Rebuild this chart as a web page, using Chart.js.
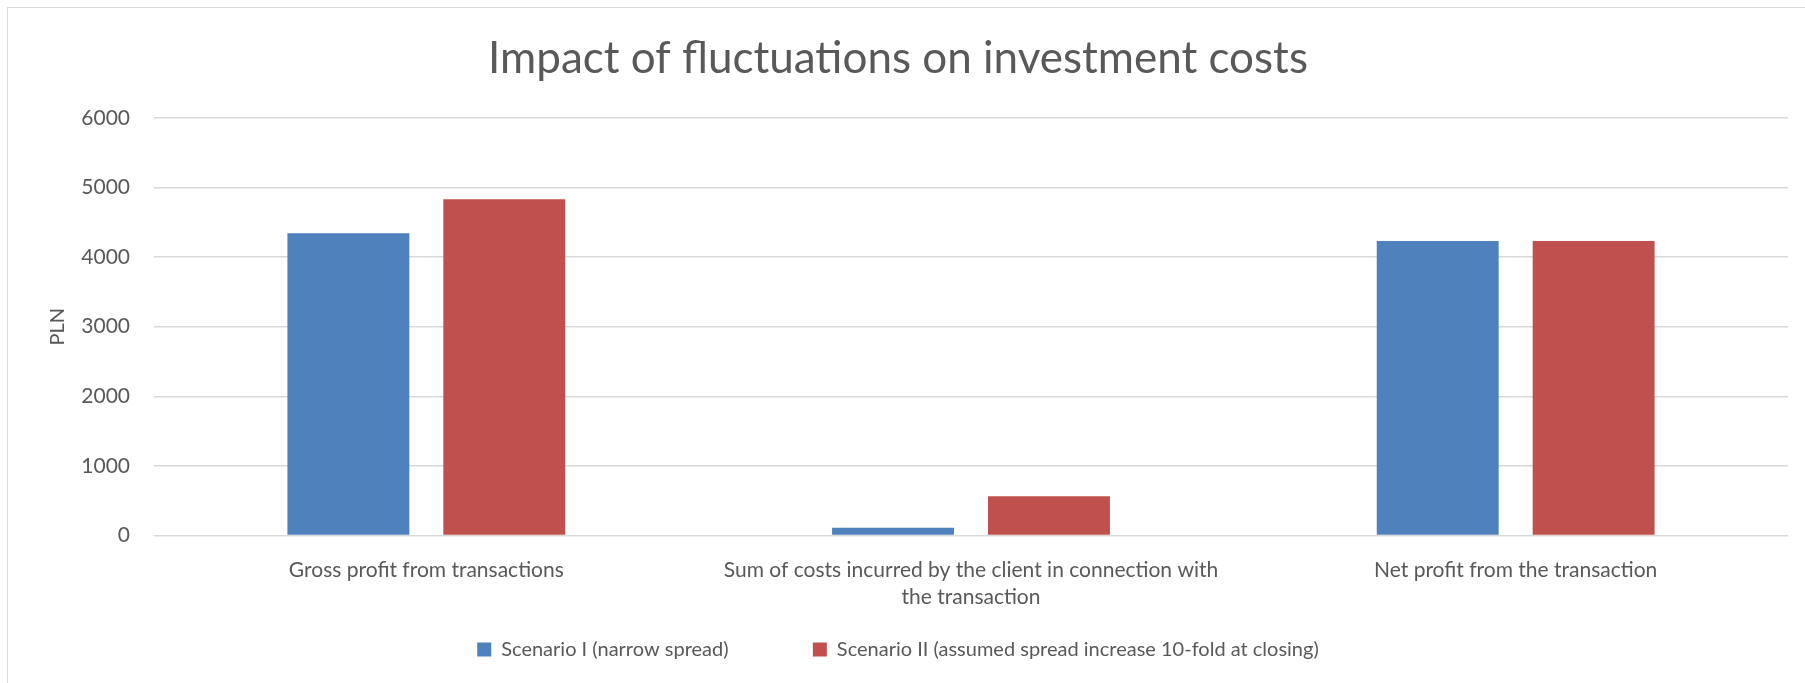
<!DOCTYPE html>
<html>
<head>
<meta charset="utf-8">
<script src="https://cdn.jsdelivr.net/npm/chart.js@4"></script>
<style>
  html, body { margin: 0; padding: 0; background: #fff; }
  #wrap { position: relative; width: 1805px; height: 683px; }
  #frame { position: absolute; left: 7px; top: 7px; right: 0; bottom: 0;
           border-left: 1.5px solid #d9d9d9; border-top: 1.5px solid #d9d9d9; }
  canvas { position: absolute; left: 0; top: 0; }
</style>
</head>
<body>
<div id="wrap">
  <div id="frame"></div>
  <canvas id="costChart" width="1805" height="683"></canvas>
</div>
<script>
// dane z wykresu
const categories = [
    'Gross profit from transactions',
    ['Sum of costs incurred by the client in connection with', 'the transaction'],
    'Net profit from the transaction'
];
const scenario1 = [4340, 110, 4230];
const scenario2 = [4830, 565, 4230];
const yTicks = [0, 1000, 2000, 3000, 4000, 5000, 6000];

const textColor = '#595959';
const fontFamily = 'Lato, "Noto Sans", sans-serif';

document.addEventListener('DOMContentLoaded', function() {
    new Chart(document.getElementById('costChart'), {
        type: 'bar',
        data: {
            labels: categories,
            datasets: [{
                label: 'Scenario I (narrow spread)',
                data: scenario1,
                backgroundColor: '#4f81bd',
                categoryPercentage: 0.5725,
                barPercentage: 0.782
            }, {
                label: 'Scenario II (assumed spread increase 10-fold at closing)',
                data: scenario2,
                backgroundColor: '#c0504d',
                categoryPercentage: 0.5725,
                barPercentage: 0.782
            }]
        },
        options: {
            responsive: false,
            animation: false,
            layout: {
                padding: { left: 8, right: 17, top: 8, bottom: 13.5 }
            },
            plugins: {
                title: {
                    display: true,
                    text: 'Impact of fluctuations on investment costs',
                    color: textColor,
                    font: { family: fontFamily, size: 44, weight: 'normal' },
                    padding: { top: 24, bottom: 33 }
                },
                legend: {
                    position: 'bottom',
                    labels: {
                        color: textColor,
                        font: { family: fontFamily, size: 20 },
                        boxWidth: 14,
                        boxHeight: 14,
                        padding: 28,
                        // wiekszy odstep miedzy pozycjami legendy
                        generateLabels: function(chart) {
                            const items = Chart.defaults.plugins.legend.labels.generateLabels(chart);
                            items[0].text += '           ';
                            return items;
                        }
                    }
                },
                tooltip: { enabled: false }
            },
            scales: {
                x: {
                    grid: { display: false },
                    border: { display: false },
                    ticks: {
                        color: textColor,
                        font: { family: fontFamily, size: 21, lineHeight: 1.25 },
                        padding: 14,
                        maxRotation: 0,
                        autoSkip: false
                    },
                    afterFit: function(scale) { scale.height = 76; }
                },
                y: {
                    min: 0,
                    max: 6000,
                    afterBuildTicks: function(scale) {
                        scale.ticks = yTicks.map(v => ({ value: v }));
                    },
                    grid: { color: '#d9d9d9', lineWidth: 1.5, drawTicks: false },
                    border: { display: false },
                    ticks: {
                        color: textColor,
                        font: { family: fontFamily, size: 21 },
                        padding: 24,
                        callback: v => String(v)
                    },
                    title: {
                        display: true,
                        text: 'PLN',
                        color: textColor,
                        font: { family: fontFamily, size: 20 },
                        padding: { top: 38, bottom: 0 }
                    },
                    afterFit: function(scale) { scale.width = 146; }
                }
            }
        }
    });
});
</script>
</body>
</html>
